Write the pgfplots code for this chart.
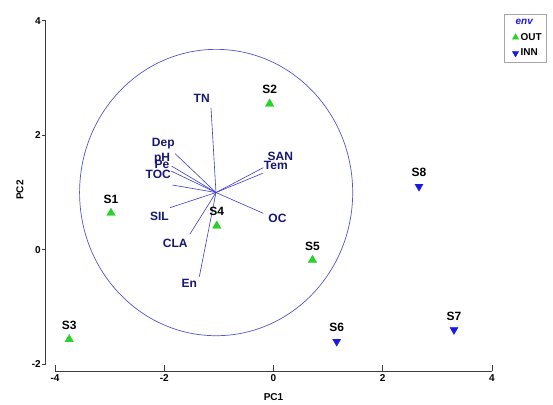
\documentclass[border=0pt]{standalone}
\usepackage{fontspec}
\setmainfont{Liberation Sans}
\usepackage{pgfplots}
\pgfplotsset{compat=1.18}
\definecolor{ptgreen}{RGB}{40,210,40}
\definecolor{ptblue}{RGB}{25,25,230}
\definecolor{vecline}{RGB}{60,60,205}
\definecolor{veclab}{RGB}{22,22,115}
\definecolor{circ}{RGB}{85,85,205}
\definecolor{axcol}{RGB}{60,60,60}
\begin{document}
\begin{tikzpicture}
\begin{axis}[
  scale only axis, width=446.3pt, height=350.3pt,
  xmin=-4.17, xmax=4, ymin=-2.116, ymax=4,
  axis lines*=left, axis line style={draw=none},
  clip=false,
  xtick={-4,-2,0,2,4}, xticklabels={-4,-2,0,2,4},
  ytick={-2,0,2,4}, yticklabels={-2,0,2,4},
  major tick length=0pt,
  ticklabel style={font=\fontsize{10}{11}\selectfont\bfseries, text=black},
  yticklabel style={xshift=-1.4pt},
  xlabel={PC1}, ylabel={PC2},
  xlabel style={at={(axis cs:0,-2.116)}, anchor=center, yshift=-26pt, font=\fontsize{10}{11}\selectfont\bfseries},
  ylabel style={at={(axis cs:-4.64,1.044)}, anchor=center, rotate=0, font=\fontsize{10}{11}\selectfont\bfseries},
  legend style={at={(axis cs:4.225,4.117)}, anchor=north west, draw=gray!70, fill=white,
     font=\fontsize{10}{11}\selectfont\bfseries, inner xsep=2.5pt, inner ysep=2.5pt, row sep=3.5pt,
     /tikz/every even column/.append style={column sep=1pt}},
  legend cell align=left,
]
% axis lines and ticks
\draw[axcol, line width=0.8pt] (axis cs:-4.17,-2) -- (axis cs:-4.17,4);
\draw[axcol, line width=0.8pt] (axis cs:-4,-2.116) -- (axis cs:4,-2.116);
\draw[axcol, line width=0.8pt] (axis cs:-4.17,4) -- (axis cs:-4.243,4);
\draw[axcol, line width=0.8pt] (axis cs:-4.17,2) -- (axis cs:-4.243,2);
\draw[axcol, line width=0.8pt] (axis cs:-4.17,0) -- (axis cs:-4.243,0);
\draw[axcol, line width=0.8pt] (axis cs:-4.17,-2) -- (axis cs:-4.243,-2);
\draw[axcol, line width=0.8pt] (axis cs:-4,-2.116) -- (axis cs:-4,-2.01);
\draw[axcol, line width=0.8pt] (axis cs:-2,-2.116) -- (axis cs:-2,-2.01);
\draw[axcol, line width=0.8pt] (axis cs:0,-2.116) -- (axis cs:0,-2.01);
\draw[axcol, line width=0.8pt] (axis cs:2,-2.116) -- (axis cs:2,-2.01);
\draw[axcol, line width=0.8pt] (axis cs:4,-2.116) -- (axis cs:4,-2.01);

% circle of equilibrium contribution
\draw[circ, line width=0.7pt] (axis cs:-1.05,1.0) ellipse [x radius=2.5, y radius=2.5];

% environmental vectors
\addplot[vecline, line width=0.6pt, forget plot] coordinates {(-1.053,1.0) (-1.144,2.476)}; % TN
\addplot[vecline, line width=0.6pt, forget plot] coordinates {(-1.053,1.0) (-1.803,1.68)};  % Dep
\addplot[vecline, line width=0.6pt, forget plot] coordinates {(-1.053,1.0) (-1.867,1.463)}; % pH
\addplot[vecline, line width=0.6pt, forget plot] coordinates {(-1.053,1.0) (-1.876,1.376)}; % Pe
\addplot[vecline, line width=0.6pt, forget plot] coordinates {(-1.053,1.0) (-1.849,1.131)}; % TOC
\addplot[vecline, line width=0.6pt, forget plot] coordinates {(-1.053,1.0) (-1.895,0.735)}; % SIL
\addplot[vecline, line width=0.6pt, forget plot] coordinates {(-1.053,1.0) (-1.529,0.276)}; % CLA
\addplot[vecline, line width=0.6pt, forget plot] coordinates {(-1.053,1.0) (-1.358,-0.47)}; % En
\addplot[vecline, line width=0.6pt, forget plot] coordinates {(-1.053,1.0) (-0.187,0.637)}; % OC
\addplot[vecline, line width=0.6pt, forget plot] coordinates {(-1.053,1.0) (-0.187,1.434)}; % SAN
\addplot[vecline, line width=0.6pt, forget plot] coordinates {(-1.053,1.0) (-0.198,1.336)}; % Tem

% vector labels
\begin{scope}[every node/.style={font=\fontsize{12}{12}\selectfont\bfseries, text=veclab, inner sep=0pt}]
\node at (axis cs:-1.314,2.645) {TN};
\node at (axis cs:-2.017,1.851) {Dep};
\node at (axis cs:-2.04,1.585) {pH};
\node at (axis cs:-2.04,1.49) {Pe};
\node at (axis cs:-2.109,1.31) {TOC};
\node at (axis cs:-2.09,0.587) {SIL};
\node at (axis cs:-1.798,0.119) {CLA};
\node at (axis cs:-1.543,-0.585) {En};
\node at (axis cs:0.073,0.555) {OC};
\node at (axis cs:0.124,1.636) {SAN};
\node at (axis cs:0.042,1.475) {Tem};
\end{scope}

% samples
\addplot[only marks, mark=triangle*, mark size=5pt, mark options={fill=ptgreen, draw=ptgreen, line width=0.2pt}, forget plot]
  coordinates {(-2.975,0.643) (-0.07,2.55) (-3.74,-1.563) (-1.038,0.419) (0.714,-0.178)};
\addplot[only marks, mark=triangle*, mark size=4.8pt, mark options={fill=ptblue, draw=ptblue, rotate=180, line width=0.2pt}, forget plot]
  coordinates {(1.157,-1.601) (3.304,-1.397) (2.664,1.105)};

\begin{scope}[every node/.style={font=\fontsize{12}{12}\selectfont\bfseries, text=black, inner sep=0pt, anchor=south, yshift=9.5pt}]
\node at (axis cs:-2.975,0.643) {S1};
\node at (axis cs:-0.07,2.55) {S2};
\node at (axis cs:-3.74,-1.563) {S3};
\node at (axis cs:-1.038,0.419) {S4};
\node at (axis cs:0.714,-0.178) {S5};
\node at (axis cs:1.157,-1.601) {S6};
\node at (axis cs:3.304,-1.397) {S7};
\node at (axis cs:2.664,1.105) {S8};
\end{scope}

% legend
\addlegendimage{empty legend}
\addlegendentry{\hspace*{-5pt}\textcolor{ptblue}{\itshape env}}
\addlegendimage{only marks, mark=triangle*, mark size=3.6pt, mark options={fill=ptgreen, draw=ptgreen}}
\addlegendentry{OUT}
\addlegendimage{only marks, mark=triangle*, mark size=3.6pt, mark options={fill=ptblue, draw=ptblue, rotate=180}}
\addlegendentry{INN}

\coordinate (bbll) at (axis cs:-5.007,-2.6925);
\coordinate (bbur) at (axis cs:5.117,4.3618);
\end{axis}
\pgfresetboundingbox
\path[use as bounding box] (bbll) rectangle (bbur);
\end{tikzpicture}
\end{document}
